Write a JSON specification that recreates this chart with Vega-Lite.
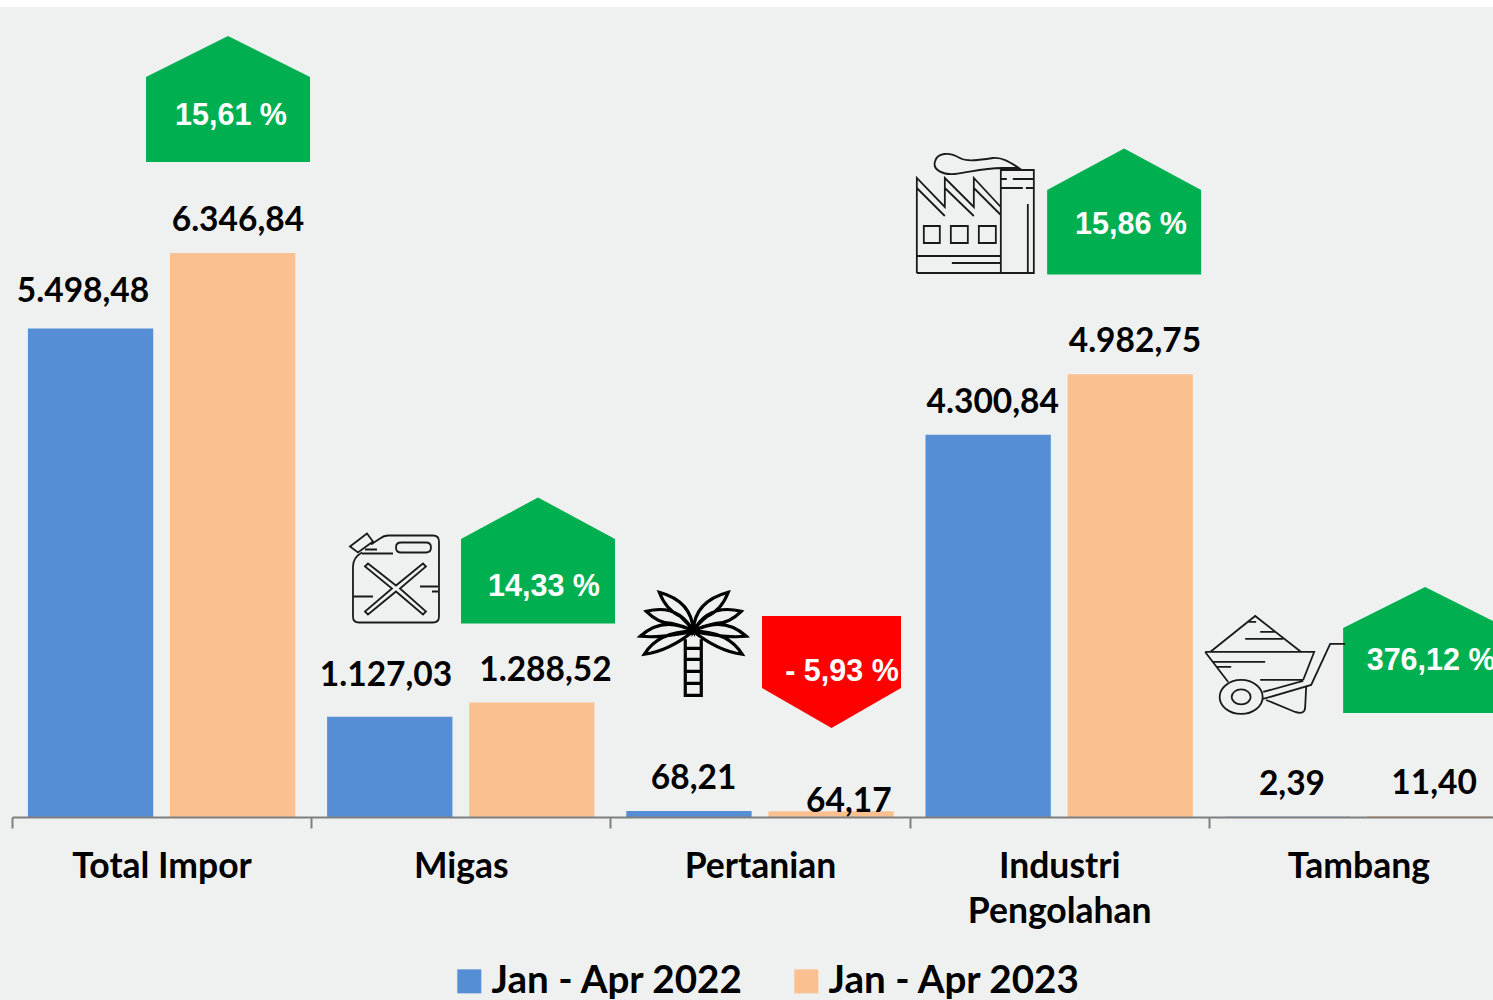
{"$schema":"https://vega.github.io/schema/vega-lite/v6.json","width":1493,"height":993,"autosize":"none","padding":{"left":0,"top":7,"right":0,"bottom":0},"background":"#FFFFFF","view":{"fill":"#EFF1F1","stroke":null},"datasets":{"bars":[{"category":"Total Impor","period":"Jan - Apr 2022","value":5498.48},{"category":"Total Impor","period":"Jan - Apr 2023","value":6346.84},{"category":"Migas","period":"Jan - Apr 2022","value":1127.03},{"category":"Migas","period":"Jan - Apr 2023","value":1288.52},{"category":"Pertanian","period":"Jan - Apr 2022","value":68.21},{"category":"Pertanian","period":"Jan - Apr 2023","value":64.17},{"category":"Industri Pengolahan","period":"Jan - Apr 2022","value":4300.84},{"category":"Industri Pengolahan","period":"Jan - Apr 2023","value":4982.75},{"category":"Tambang","period":"Jan - Apr 2022","value":2.39},{"category":"Tambang","period":"Jan - Apr 2023","value":11.40}],"labels":[{"text":"5.498,48","pos":0.2373,"level":5905},{"text":"6.346,84","pos":0.755,"level":6704},{"text":"1.127,03","pos":1.25,"level":1584},{"text":"1.288,52","pos":1.783,"level":1640},{"text":"68,21","pos":2.278,"level":425},{"text":"64,17","pos":2.797,"level":166},{"text":"4.300,84","pos":3.278,"level":4656},{"text":"4.982,75","pos":3.753,"level":5343},{"text":"2,39","pos":4.278,"level":357},{"text":"11,40","pos":4.753,"level":369}],"badges":[{"kind":"upWide","direction":"naik","pos":0.722,"level":8080,"text":"15,61 %","textPos":0.732,"textLevel":7885},{"kind":"upNarrow","direction":"naik","pos":1.758,"level":2887,"text":"14,33 %","textPos":1.778,"textLevel":2585},{"kind":"down","direction":"turun","pos":2.739,"level":1632,"text":"- 5,93 %","textPos":2.774,"textLevel":1630},{"kind":"upNarrow","direction":"naik","pos":3.717,"level":6814,"text":"15,86 %","textPos":3.74,"textLevel":6660},{"kind":"upWide","direction":"naik","pos":4.723,"level":1879,"text":"376,12 %","textPos":4.743,"textLevel":1755}],"icons":[{"icon":"jerrycan","pos":1.28,"level":2684},{"icon":"palm","pos":2.277,"level":1955},{"icon":"factory","pos":3.218,"level":6786},{"icon":"barrow","pos":4.165,"level":1711}]},"resolve":{"scale":{"x":"independent"}},"layer":[{"data":{"name":"bars"},"layer":[{"mark":{"type":"bar"},"encoding":{"x":{"field":"category","type":"nominal","sort":["Total Impor","Migas","Pertanian","Industri Pengolahan","Tambang"],"scale":{"range":[12,1508],"paddingInner":0,"paddingOuter":0},"axis":{"title":null,"orient":"bottom","offset":-183,"zindex":1,"labelAngle":0,"labelFont":"Lato","labelFontWeight":"bold","labelFontSize":35.5,"labelColor":"#000000","labelPadding":21,"labelLineHeight":45,"labelOverlap":false,"labelBound":false,"labelFlush":false,"labelLimit":400,"labelBaseline":"top","tickBand":"extent","tickSize":11,"tickColor":"#7F7F7F","tickWidth":2,"domainColor":"#7F7F7F","domainWidth":2,"grid":false,"labelExpr":"datum.label == 'Industri Pengolahan' ? ['Industri','Pengolahan'] : datum.label"}},"xOffset":{"field":"period","type":"nominal","scale":{"paddingInner":0.118,"paddingOuter":0.112}},"y":{"field":"value","type":"quantitative","scale":{"domain":[-2059.4,9115.5],"nice":false,"zero":false},"axis":null},"y2":{"datum":0},"color":{"field":"period","type":"nominal","scale":{"domain":["Jan - Apr 2022","Jan - Apr 2023"],"range":["#558ED5","#FAC090"]},"legend":{"title":null,"orient":"none","legendX":450,"legendY":955,"direction":"horizontal","columns":2,"symbolType":"square","symbolSize":576,"symbolStrokeWidth":0,"symbolOpacity":1,"labelFont":"Lato","labelFontWeight":"bold","labelFontSize":38.6,"labelColor":"#000000","labelLimit":500,"labelOffset":3,"columnPadding":43,"padding":0}}}}]},{"resolve":{"scale":{"shape":"independent"}},"layer":[{"data":{"name":"badges"},"mark":{"type":"point","filled":true,"opacity":1,"size":4,"strokeWidth":0},"encoding":{"x":{"field":"pos","type":"quantitative","scale":{"domain":[0,5],"range":[12,1508],"nice":false,"zero":false},"axis":null},"y":{"field":"level","type":"quantitative"},"fill":{"field":"direction","type":"nominal","scale":{"domain":["naik","turun"],"range":["#00B050","#FF0000"]},"legend":null},"shape":{"field":"kind","type":"nominal","scale":{"domain":["upWide","upNarrow","down"],"range":["M0,-63 L82,-22 L82,63 L-82,63 L-82,-22 Z","M0,-63 L77,-21.5 L77,63 L-77,63 L-77,-21.5 Z","M-69.5,-56 L69.5,-56 L69.5,16 L0,56 L-69.5,16 Z"]},"legend":null}}},{"data":{"name":"badges"},"mark":{"type":"text","font":"Liberation Sans","fontWeight":"bold","fontSize":30.5,"fill":"#FFFFFF","align":"center","baseline":"middle"},"encoding":{"x":{"field":"textPos","type":"quantitative","scale":{"domain":[0,5],"range":[12,1508],"nice":false,"zero":false},"axis":null},"y":{"field":"textLevel","type":"quantitative"},"text":{"field":"text","type":"nominal"}}},{"data":{"name":"labels"},"mark":{"type":"text","font":"Lato","fontWeight":"bold","fontSize":33.5,"fill":"#000000","align":"center","baseline":"middle"},"encoding":{"x":{"field":"pos","type":"quantitative","scale":{"domain":[0,5],"range":[12,1508],"nice":false,"zero":false},"axis":null},"y":{"field":"level","type":"quantitative"},"text":{"field":"text","type":"nominal"}}},{"data":{"name":"icons"},"transform":[{"filter":"datum.icon != 'palm'"}],"mark":{"type":"point","filled":false,"opacity":1,"size":4,"stroke":"#1A1A1A","strokeWidth":1.8,"fill":null},"encoding":{"x":{"field":"pos","type":"quantitative","scale":{"domain":[0,5],"range":[12,1508],"nice":false,"zero":false},"axis":null},"y":{"field":"level","type":"quantitative"},"shape":{"field":"icon","type":"nominal","scale":{"domain":["jerrycan","factory","barrow"],"range":["M-33,-26 Q-42,-21 -42,-12 L-42,38 Q-42,44 -36,44 L38,44 Q44,44 44,38 L44,-37 Q44,-43 38,-43 L-7,-43 Q-11,-43 -15,-40 L-24,-34 M-45,-32 L-28,-45 L-22,-37 L-37,-26 Z M-33,-25 L-2,-25 M-30,-29 L-18,-29 M6,-36 L31,-36 Q36,-36 36,-31 Q36,-26 31,-26 L6,-26 Q1,-26 1,-31 Q1,-36 6,-36 Z M-30,-12 L-27,-15 L1,7 L28,-15 L31,-12 L5,10 L31,33 L28,36 L1,13 L-27,36 L-30,33 L-3,10 Z M25,8 L43,8 M37,13 L43,13 M-42,18 L-22,18","M-58,59 L-58,-36 L-30,-7 L-30,-36 L-1,-7 L-1,-36 L26,-7 M-58,-26 L-30,2 M-30,-26 L-1,2 M-1,-26 L26,1 M-58,59 L26,59 M-51,12 L-35,12 L-35,29 L-51,29 Z M-24,12 L-7,12 L-7,29 L-24,29 Z M4,12 L21,12 L21,29 L4,29 Z M-58,42 L26,42 M-23,49 L26,49 M26,59 L26,-44 L59,-44 L59,59 Z M26,-35 L32,-35 M38,-35 L59,-35 M26,-26 L48,-26 M51,-26 L59,-26 M53,-10 L53,59 M44,-46 C35,-52 27,-57 18,-56 C5,-54 -8,-52 -15,-56 C-25,-62 -38,-62 -40,-52 C-42,-44 -32,-39 -20,-40 C-8,-41 8,-46 27,-46 Z","M-48,-13 L-3,-49 L43,-13 M-53,-13 L56,-13 L45,15 M-53,-13 L-30,17 M-10,-43 L-2,-43 M2,-33 L17,-33 M-13,-26 L25,-26 M-45,-3 L7,-3 M-42,2 L-27,2 M2,15 L45,15 M4.5,32 A21.5,17 0 1 1 -38.5,32 A21.5,17 0 1 1 4.5,32 Z M-7.5,32 A9.5,7.5 0 1 1 -26.5,32 A9.5,7.5 0 1 1 -7.5,32 Z M5,27 L45,16 M5,34 L53,20 L72,-21 L87,-21 M8,35 L37,47 Q47,50 47,42 L48,22"]},"legend":null}}},{"data":{"name":"icons"},"transform":[{"filter":"datum.icon == 'palm'"}],"mark":{"type":"point","filled":false,"opacity":1,"size":4,"stroke":"#000000","strokeWidth":3.2,"fill":null},"encoding":{"x":{"field":"pos","type":"quantitative","scale":{"domain":[0,5],"range":[12,1508],"nice":false,"zero":false},"axis":null},"y":{"field":"level","type":"quantitative"},"shape":{"field":"icon","type":"nominal","scale":{"domain":["palm"],"range":["M-8,-4 L-8,52 L8,52 L8,-4 M-8,5 L8,5 M-8,16 L8,16 M-8,28 L8,28 M-8,40 L8,40 M0,-12 Q-1,-42 -34,-51 Q-27,-33 -13,-27 Q-5,-20 0,-12 Z M0,-12 Q-15,-40 -47,-32 Q-35,-20 -22,-20 Q-8,-17 0,-12 Z M0,-12 Q-30,-28 -53,-7 Q-30,-5 0,-12 Z M0,-12 Q-35,-12 -49,11 Q-25,8 0,-12 Z M0,-12 Q1,-42 35,-51 Q28,-33 14,-27 Q5,-20 0,-12 Z M0,-12 Q15,-40 48,-32 Q36,-20 23,-20 Q8,-17 0,-12 Z M0,-12 Q30,-28 53,-7 Q30,-5 0,-12 Z M0,-12 Q35,-12 49,11 Q25,8 0,-12 Z"]},"legend":null}}}]}]}
